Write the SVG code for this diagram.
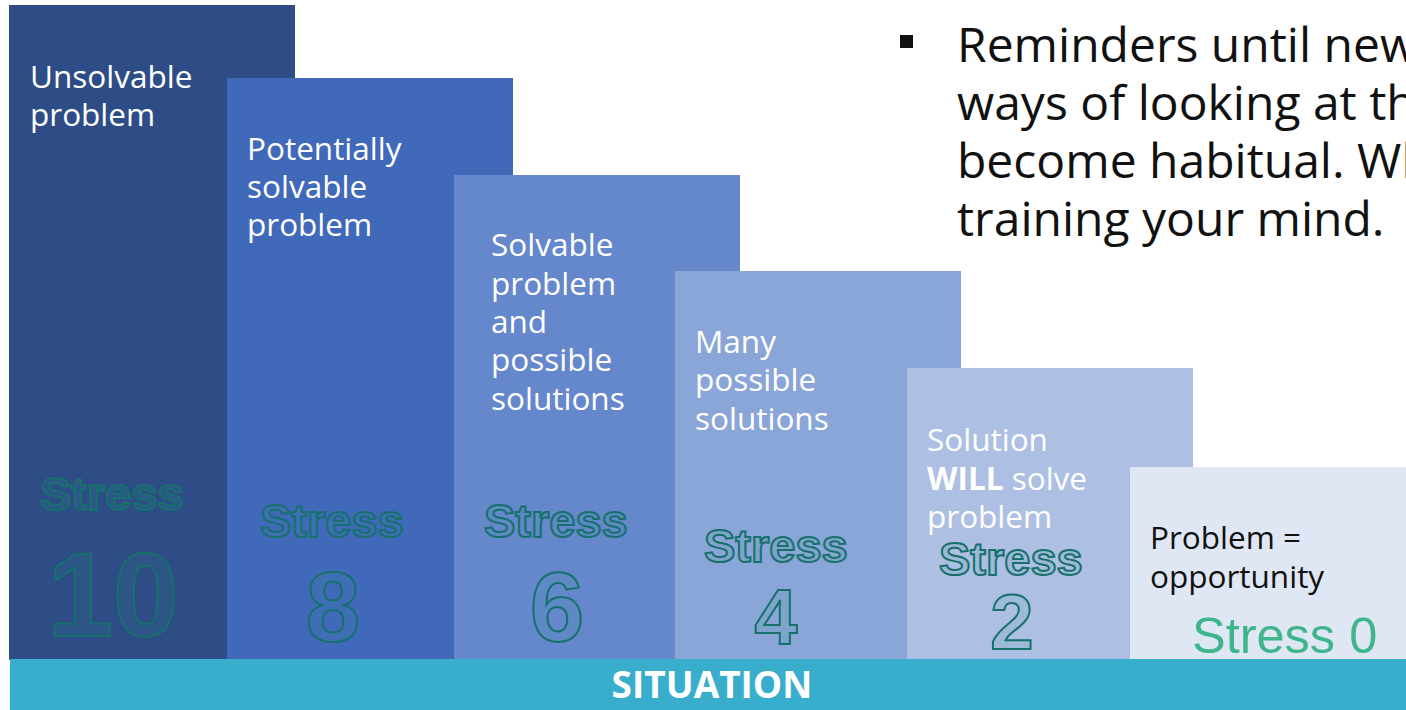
<svg xmlns="http://www.w3.org/2000/svg" width="1406" height="710" viewBox="0 0 1406 710">
  <style>
    .lbl { font-family: "Open Sans", "Noto Sans", sans-serif; font-size: 31.5px; fill: #ffffff; }
    .dark { fill: #111111; }
    .stress { font-family: "Liberation Sans", Arial, sans-serif; font-weight: bold; fill: #2a9d8f; fill-opacity: 0.12; stroke: #15716a; stroke-width: 2; }
    .body { font-family: "Open Sans", "Noto Sans", sans-serif; font-size: 48px; fill: #111111; }
  </style>
  <rect width="1406" height="710" fill="#ffffff"/>

  <!-- Staircase of stress levels -->
  <g id="step-10">
    <rect x="9" y="5" width="286" height="655" fill="#2e4d87"/>
    <text class="lbl" x="30" y="88">Unsolvable</text>
    <text class="lbl" x="30" y="126">problem</text>
    <text class="stress" x="40" y="510" font-size="47" stroke="#176a68">Stress</text>
    <text class="stress" x="113" y="636" font-size="118" text-anchor="middle" stroke="#176a68">10</text>
  </g>

  <g id="step-8">
    <rect x="227" y="78" width="286" height="582" fill="#4169ba"/>
    <text class="lbl" x="247" y="160">Potentially</text>
    <text class="lbl" x="247" y="198">solvable</text>
    <text class="lbl" x="247" y="236">problem</text>
    <text class="stress" x="260" y="537" font-size="47">Stress</text>
    <text class="stress" x="333" y="641" font-size="98" text-anchor="middle">8</text>
  </g>

  <g id="step-6">
    <rect x="454" y="175" width="286" height="485" fill="#6587cc"/>
    <text class="lbl" x="491" y="256">Solvable</text>
    <text class="lbl" x="491" y="295">problem</text>
    <text class="lbl" x="491" y="333">and</text>
    <text class="lbl" x="491" y="371">possible</text>
    <text class="lbl" x="491" y="410">solutions</text>
    <text class="stress" x="484" y="537" font-size="47">Stress</text>
    <text class="stress" x="557" y="641" font-size="98" text-anchor="middle">6</text>
  </g>

  <g id="step-4">
    <rect x="675" y="271" width="286" height="389" fill="#8aa5d8"/>
    <text class="lbl" x="695" y="353">Many</text>
    <text class="lbl" x="695" y="391">possible</text>
    <text class="lbl" x="695" y="430">solutions</text>
    <text class="stress" x="704" y="562" font-size="47">Stress</text>
    <text class="stress" x="776" y="644" font-size="77" text-anchor="middle">4</text>
  </g>

  <g id="step-2">
    <rect x="907" y="368" width="286" height="292" fill="#adbfe3"/>
    <text class="lbl" x="927" y="451">Solution</text>
    <text class="lbl" x="927" y="490"><tspan font-weight="bold">WILL</tspan> solve</text>
    <text class="lbl" x="927" y="528">problem</text>
    <text class="stress" x="939" y="575" font-size="47">Stress</text>
    <text class="stress" x="1012" y="649" font-size="78" text-anchor="middle">2</text>
  </g>

  <g id="step-0">
    <rect x="1130" y="467" width="276" height="193" fill="#e0e7f4"/>
    <text class="lbl dark" x="1150" y="549">Problem =</text>
    <text class="lbl dark" x="1150" y="588">opportunity</text>
    <text x="1192" y="653" font-family="Liberation Sans, Arial, sans-serif" font-size="50.5" fill="#3cb68a">Stress 0</text>
  </g>

  <!-- Base bar -->
  <g id="situation">
    <rect x="10" y="659" width="1396" height="51" fill="#38adcc"/>
    <text x="712" y="698" text-anchor="middle" font-family="Open Sans, Noto Sans, sans-serif" font-weight="bold" font-size="37" fill="#ffffff">SITUATION</text>
  </g>

  <!-- Bullet note, running off the right edge -->
  <g id="note">
    <rect x="900" y="35" width="13" height="13" fill="#111111"/>
    <text class="body" x="957" y="62">Reminders until new</text>
    <text class="body" x="957" y="120">ways of looking at things</text>
    <text class="body" x="957" y="178">become habitual. When</text>
    <text class="body" x="957" y="236">training your mind.</text>
  </g>
</svg>
